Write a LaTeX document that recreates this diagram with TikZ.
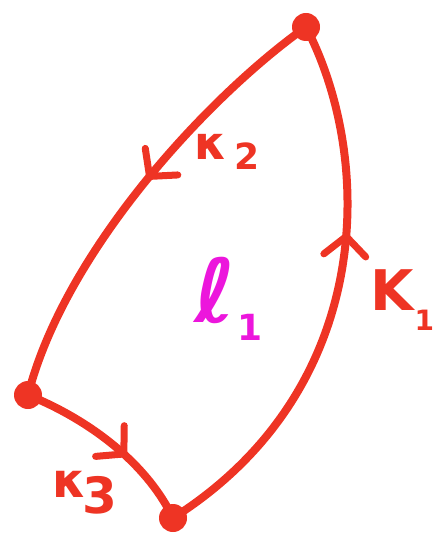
\documentclass[tikz,border=0pt]{standalone}
\usepackage{fontspec}
\setmainfont{DejaVu Sans}
\usetikzlibrary{decorations.markings,arrows.meta}
\definecolor{inkred}{RGB}{238,52,36}
\definecolor{inkmag}{RGB}{236,22,220}
\newcommand{\fsz}[1]{\fontsize{#1}{#1}\selectfont}
\tikzset{
  edge/.style={draw=inkred,line width=8pt,line cap=round},
  vtx/.style={circle,fill=inkred,inner sep=0pt,minimum size=28pt},
  lbl/.style={text=inkred,font=\bfseries,inner sep=0pt,anchor=base west},
  midarrow/.style={postaction={decorate,decoration={markings,
     mark=at position #1 with {\arrow[inkred,line width=7pt]{Straight Barb[length=19pt,width=42pt,round]}}}}}
}
\begin{document}
\begin{tikzpicture}[x=1pt,y=-1pt]
\useasboundingbox (0,0) rectangle (438,540);
\node[vtx] (t) at (306,27) {};
\node[vtx] (l) at (28,395) {};
\node[vtx] (b) at (173,518) {};
\draw[edge,midarrow=0.47] (t.center) .. controls (210,95) and (65,250) .. (l.center);
\draw[edge,midarrow=0.62] (b.center) .. controls (375,390) and (375,160) .. (t.center);
\draw[edge,midarrow=0.6] (l.center) .. controls (85,418) and (145,460) .. (b.center);
\node[lbl] (k2) at (194,160) {\fsz{46}κ\hspace{8pt}\fsz{36}\raisebox{-10pt}{2}};
\node[lbl] (k1) at (370,310) {\fsz{56}K\hspace{1pt}\fsz{28}\raisebox{-20pt}{1}};
\node[lbl] (k3) at (52,497) {\fsz{48}κ\hspace{-4pt}\fsz{50}\raisebox{-16pt}{3}};
\node[lbl,text=inkmag] (l1) at (194,322) {\fsz{88}ℓ\hspace{2pt}\fsz{36}\raisebox{-18pt}{1}};
\end{tikzpicture}
\end{document}
